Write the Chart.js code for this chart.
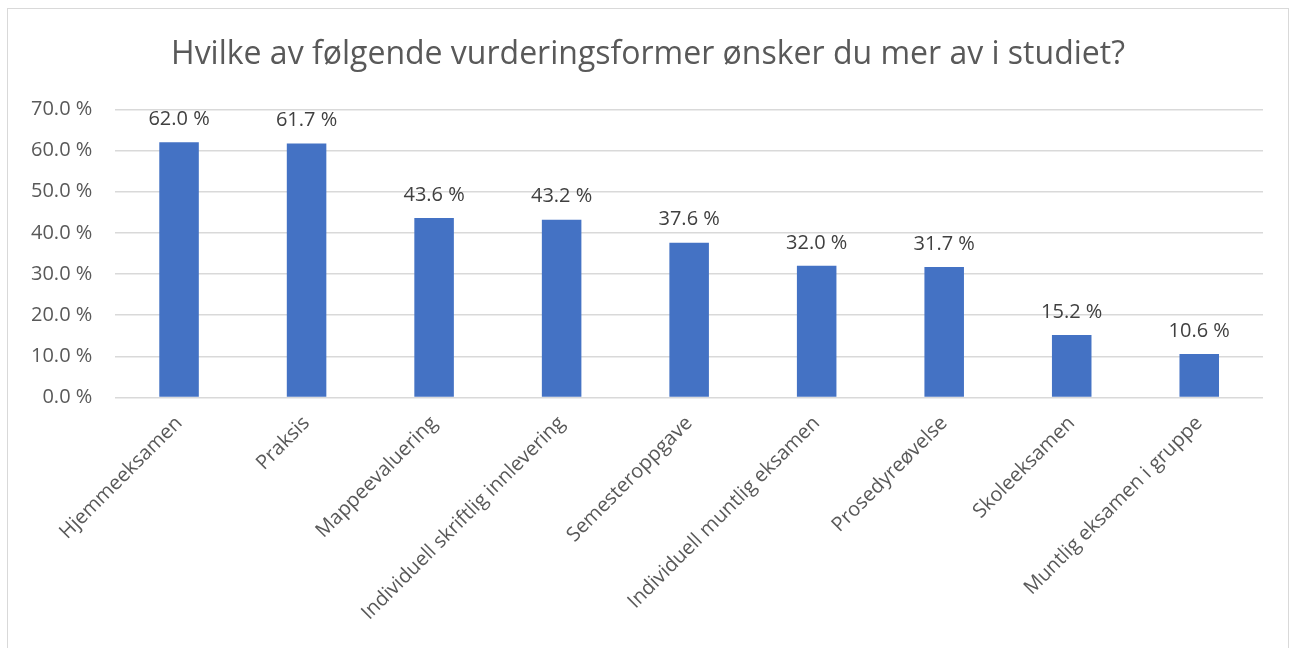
<!DOCTYPE html>
<html>
<head>
<meta charset="utf-8">
<script src="https://cdn.jsdelivr.net/npm/chart.js@4.4.1/dist/chart.umd.min.js"></script>
<style>
  html, body { margin: 0; padding: 0; background: #fff; overflow: hidden; }
  .frame { position: absolute; left: 7px; top: 8px; width: 1282px; height: 700px; border: 1px solid #d9d9d9; box-sizing: border-box; }
  #chart { display: block; }
</style>
</head>
<body>
<div class="frame"><canvas id="chart" width="1280" height="622"></canvas></div>
<script>
// Vurderingsformer studentene ønsker mer av (andel i %)
const categories = [
  "Hjemmeeksamen", "Praksis", "Mappeevaluering", "Individuell skriftlig innlevering",
  "Semesteroppgave", "Individuell muntlig eksamen", "Prosedyreøvelse", "Skoleeksamen",
  "Muntlig eksamen i gruppe"
];
const values = [62.0, 61.7, 43.6, 43.2, 37.6, 32.0, 31.7, 15.2, 10.6];
const yTicks = [0, 10, 20, 30, 40, 50, 60, 70];

const FONT = "'Open Sans', sans-serif";
const fmt = (v) => v.toFixed(1) + " %";

// etiketter over søylene
const barLabels = {
  id: "barLabels",
  afterDatasetsDraw(c) {
    const ctx = c.ctx;
    ctx.save();
    ctx.font = "20px " + FONT;
    ctx.fillStyle = "#404040";
    ctx.textAlign = "center";
    ctx.textBaseline = "bottom";
    c.getDatasetMeta(0).data.forEach((bar, i) => {
      ctx.fillText(fmt(values[i]), bar.x, bar.y - 13);
    });
    ctx.restore();
  },
};

new Chart(document.getElementById("chart"), {
  type: "bar",
  data: {
    labels: categories,
    datasets: [{ data: values, backgroundColor: "#4472c4", barPercentage: 0.62, categoryPercentage: 0.5 }],
  },
  options: {
    responsive: false,
    animation: false,
    layout: { padding: 0 },
    plugins: {
      legend: { display: false },
      tooltip: { enabled: false },
      title: {
        display: true,
        text: "Hvilke av følgende vurderingsformer ønsker du mer av i studiet?",
        color: "#595959",
        font: { family: FONT, size: 32, weight: "normal" },
        padding: { top: 27, bottom: 35 },
      },
    },
    scales: {
      x: {
        grid: { display: false },
        border: { display: false },
        ticks: { color: "#595959", font: { family: FONT, size: 20 }, maxRotation: 45, minRotation: 45, padding: 6 },
        // plass til høyre for siste søyle, ingen ekstra til venstre
        afterFit: (s) => { s.paddingLeft = 0; s.paddingRight = 25; },
      },
      y: {
        min: 0,
        max: 70,
        afterBuildTicks: (s) => { s.ticks = yTicks.map((v) => ({ value: v })); },
        grid: { color: "#d9d9d9", lineWidth: 1.5, drawTicks: false },
        border: { display: false },
        ticks: { color: "#595959", font: { family: FONT, size: 20 }, padding: 23, callback: (v) => fmt(v) },
      },
    },
  },
  plugins: [barLabels],
});
</script>
</body>
</html>
